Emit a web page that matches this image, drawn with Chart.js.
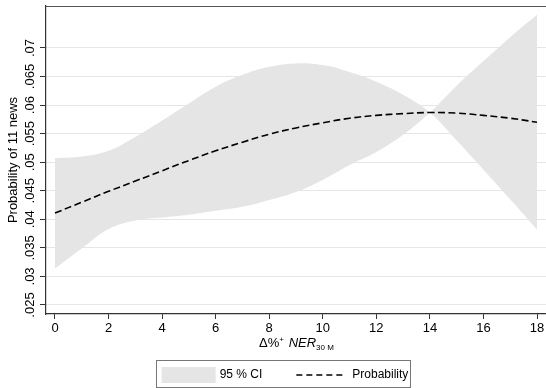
<!DOCTYPE html>
<html>
<head>
<meta charset="utf-8">
<script src="https://cdn.jsdelivr.net/npm/chart.js@4.4.0/dist/chart.umd.min.js"></script>
<style>
    body { margin: 0; background: #fff; }
    canvas { display: block; }
</style>
</head>
<body>
<canvas id="probChart" width="546" height="388"></canvas>
<script>
//############################ Values ############################
const xValues = [0, 1, 2, 3, 4, 5, 6, 7, 8, 9, 10, 11, 12, 13, 14, 15, 16, 17, 18];
const probability = [.0411, .0430, .0449, .0467, .0485, .0503, .0520, .0535, .0549, .0560,
                     .0569, .0577, .0582, .0585, .0587, .0586, .0582, .0577, .0570];
// the two CI bounds meet at x = 14 and swap sides there
const ciBoundA = [.0507, .0510, .0520, .0544, .0573, .0603, .0632, .0653, .0667, .0673,
                  .0670, .0658, .0641, .0618, .0587, .0538, .0487, .0435, .0382];
const ciBoundB = [.0314, .0349, .0383, .0398, .0403, .0408, .0415, .0422, .0434, .0448,
                  .0469, .0495, .0518, .0548, .0587, .0634, .0677, .0719, .0758];

const xTicks = [0, 2, 4, 6, 8, 10, 12, 14, 16, 18];
const yTicks = [.025, .03, .035, .04, .045, .05, .055, .06, .065, .07];
const yTickLabels = ['.025', '.03', '.035', '.04', '.045', '.05', '.055', '.06', '.065', '.07'];
const legendLabels = ['95 % CI', 'Probability'];

//############################ Look ############################
const FONT = "'Liberation Sans', Arial, Helvetica, sans-serif";
const CI_GRAY = '#e5e5e5';
const AXIS_COLOR = '#333333';
const PLOT_BOTTOM = 314;
const LAYOUT_PAD_BOTTOM = -3;
const LEGEND_SHIFT = 13;

const toPoints = (ys) => xValues.map((x, i) => ({ x: x, y: ys[i] }));

//############################ Plot frame, x title and legend box ############################
const stataDecor = {
    id: 'stataDecor',
    afterLayout(chart) {
        // Stata centres its legend a bit right of the canvas centre
        chart.legend.left += LEGEND_SHIFT;
        chart.legend.right += LEGEND_SHIFT;
    },
    afterDraw(chart) {
        const ctx = chart.ctx;
        const area = chart.chartArea;
        ctx.save();

        // top edge of the plot region
        ctx.strokeStyle = '#555555';
        ctx.lineWidth = 1;
        ctx.beginPath();
        ctx.moveTo(area.left, area.top + 0.5);
        ctx.lineTo(area.right, area.top + 0.5);
        ctx.stroke();

        // x axis title: Δ%+ NER (30 M)
        const parts = [
            { text: 'Δ%', font: `13px ${FONT}`, dy: 0 },
            { text: '+', font: `8px ${FONT}`, dy: -5 },
            { text: ' NER', font: `italic 13px ${FONT}`, dy: 0 },
            { text: '30 M', font: `8px ${FONT}`, dy: 3 },
        ];
        let total = 0;
        parts.forEach(p => { ctx.font = p.font; p.w = ctx.measureText(p.text).width; total += p.w; });
        let x = (area.left + area.right) / 2 - total / 2;
        const baseline = 346.5;
        ctx.fillStyle = '#000';
        ctx.textBaseline = 'alphabetic';
        ctx.textAlign = 'left';
        parts.forEach(p => {
            ctx.font = p.font;
            ctx.fillText(p.text, x, baseline + p.dy);
            x += p.w + (p.text === '+' ? 1 : 0);
        });

        // frame round the legend
        const boxes = chart.legend.legendHitBoxes;
        if (boxes && boxes.length) {
            const first = boxes[0];
            const last = boxes[boxes.length - 1];
            const midY = first.top + first.height / 2;
            const left = Math.round(first.left - 8) + 0.5;
            const right = Math.round(last.left + last.width + 2) + 0.5;
            const top = Math.round(midY - 15) + 0.5;
            const bottom = chart.height - 0.5;
            ctx.strokeStyle = '#777777';
            ctx.lineWidth = 1;
            ctx.strokeRect(left, top, right - left, bottom - top);
        }
        ctx.restore();
    }
};

//############################ Chart ############################
const probChart = new Chart(document.getElementById('probChart'), {
    type: 'line',
    data: {
        datasets: [
            {
                label: legendLabels[0],
                data: toPoints(ciBoundA),
                fill: '+1',
                backgroundColor: CI_GRAY,
                borderColor: 'transparent',
                borderWidth: 0,
                pointRadius: 0,
                tension: 0.4,
                order: 2,
            },
            {
                label: 'ci-b',
                data: toPoints(ciBoundB),
                fill: false,
                backgroundColor: CI_GRAY,
                borderColor: 'transparent',
                borderWidth: 0,
                pointRadius: 0,
                tension: 0.4,
                order: 3,
            },
            {
                label: legendLabels[1],
                data: toPoints(probability),
                fill: false,
                borderColor: '#000000',
                borderWidth: 1.6,
                borderDash: [7, 3.5],
                pointRadius: 0,
                tension: 0.4,
                order: 0,
            },
        ],
    },
    options: {
        responsive: false,
        animation: false,
        layout: {
            padding: { top: 6, right: 0, bottom: LAYOUT_PAD_BOTTOM, left: 0 },
        },
        scales: {
            x: {
                type: 'linear',
                min: -0.336,
                max: 18.336,
                afterBuildTicks: (scale) => { scale.ticks = xTicks.map(v => ({ value: v })); },
                afterFit: (scale) => {
                    const chart = scale.chart;
                    scale.height = chart.height - LAYOUT_PAD_BOTTOM - chart.legend.height - PLOT_BOTTOM;
                    scale.paddingLeft = 0;
                    scale.paddingRight = 0;
                },
                grid: { drawOnChartArea: false, drawTicks: true, tickLength: 5, tickColor: AXIS_COLOR },
                border: { color: AXIS_COLOR, width: 1.2 },
                ticks: {
                    font: { family: FONT, size: 13 },
                    color: '#000',
                    padding: 2,
                    maxRotation: 0,
                    autoSkip: false,
                },
            },
            y: {
                type: 'linear',
                min: 0.023424,
                max: 0.07735,
                afterBuildTicks: (scale) => { scale.ticks = yTicks.map(v => ({ value: v })); },
                afterFit: (scale) => {
                    scale.width = 46;
                    scale.paddingTop = 0;
                    scale.paddingBottom = 0;
                },
                grid: { color: '#e6e6e6', lineWidth: 1, tickColor: AXIS_COLOR, tickLength: 6 },
                border: { color: AXIS_COLOR, width: 1.2 },
                ticks: {
                    font: { family: FONT, size: 13 },
                    color: '#000',
                    minRotation: 90,
                    maxRotation: 90,
                    crossAlign: 'center',
                    padding: -3,
                    autoSkip: false,
                    callback: (value, index) => yTickLabels[index],
                },
                title: {
                    display: true,
                    text: 'Probability of 11 news',
                    font: { family: FONT, size: 13 },
                    color: '#000',
                    padding: { top: 6, bottom: 0 },
                },
            },
        },
        plugins: {
            tooltip: { enabled: false },
            legend: {
                position: 'bottom',
                onClick: null,
                labels: {
                    font: { family: FONT, size: 12 },
                    color: '#000',
                    usePointStyle: true,
                    pointStyleWidth: 50,
                    padding: 34,
                    generateLabels: () => [
                        { text: legendLabels[0], fillStyle: CI_GRAY, strokeStyle: CI_GRAY, lineWidth: 4, pointStyle: 'rect', datasetIndex: 0 },
                        { text: legendLabels[1], fillStyle: 'transparent', strokeStyle: '#000', lineWidth: 1.4, lineDash: [6, 4], pointStyle: 'line', datasetIndex: 2 },
                    ],
                },
            },
        },
    },
    plugins: [stataDecor],
});
</script>
</body>
</html>
